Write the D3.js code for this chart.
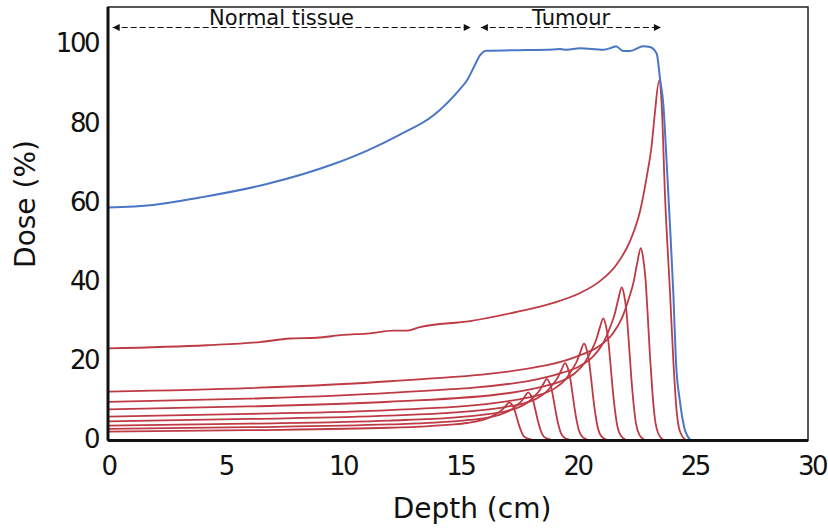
<!DOCTYPE html>
<html>
<head>
<meta charset="utf-8">
<script src="https://cdn.jsdelivr.net/npm/d3@7"></script>
<style>
  body { margin: 0; background: #fff; }
  text { font-family: "DejaVu Sans", Verdana, sans-serif; fill: #111; }
</style>
</head>
<body>
<script>
var width = 828, height = 531;

// axis ticks
var depthTicks = [0, 5, 10, 15, 20, 25, 30];
var doseTicks = [0, 20, 40, 60, 80, 100];

// spread-out peak (blue), [depth cm, dose %]
var sobp = [[0, 58.6], [1.92, 59.2], [3.92, 61.1], [6.77, 64.5], [9.59, 69.5], [11.03, 72.9],
  [12.45, 77.0], [13.87, 81.8], [15.01, 88.5], [15.30, 90.6], [15.6, 94.0], [15.86, 97.0],
  [16.15, 98.2], [17.5, 98.3], [19.0, 98.5], [19.28, 98.6], [19.56, 98.4], [20.13, 98.8],
  [21.12, 98.4], [21.55, 99.1], [21.66, 99.3], [21.97, 98.1], [22.26, 98.1], [22.83, 99.3],
  [23.11, 99.1], [23.40, 97.4], [23.54, 91.1], [23.68, 84.7], [23.82, 70.4], [23.97, 53.5],
  [24.11, 36.6], [24.22, 19.7], [24.39, 9.6], [24.58, 2.9], [24.82, 0]];

// pristine Bragg peaks (red), shallowest first
var bp1 = [[0, 2.0], [6, 2.35], [12, 2.97], [13.11, 3.21], [14.61, 3.76], [15.31, 4.17], [15.91, 4.83],
  [16.31, 5.65], [16.61, 6.68], [16.81, 7.54], [16.96, 8.50], [17.11, 9.4], [17.21, 8.93], [17.31, 7.90],
  [17.41, 6.02], [17.51, 3.95], [17.61, 2.26], [17.71, 1.03], [17.86, 0.28], [18.06, 0]];
var bp2 = [[0, 2.7], [6, 3.11], [12, 3.81], [13.92, 4.24], [15.42, 4.93], [16.12, 5.43], [16.72, 6.26],
  [17.12, 7.27], [17.42, 8.56], [17.62, 9.62], [17.77, 10.81], [17.92, 11.9], [18.02, 11.31], [18.12, 10.0],
  [18.22, 7.62], [18.32, 5.0], [18.42, 2.86], [18.52, 1.31], [18.67, 0.36], [18.87, 0]];
var bp3 = [[0, 3.5], [6, 4.01], [12, 4.79], [14.71, 5.52], [16.21, 6.40], [16.91, 7.05], [17.51, 8.11],
  [17.91, 9.41], [18.21, 11.06], [18.41, 12.42], [18.56, 13.95], [18.71, 15.3], [18.81, 14.54], [18.91, 12.85],
  [19.01, 9.79], [19.11, 6.43], [19.21, 3.67], [19.31, 1.68], [19.46, 0.46], [19.66, 0]];
var bp4 = [[0, 4.6], [6, 5.19], [12, 6.03], [15.49, 7.16], [16.99, 8.26], [17.69, 9.07], [18.29, 10.39],
  [18.69, 12.01], [18.99, 14.07], [19.19, 15.76], [19.34, 17.67], [19.49, 19.3], [19.59, 18.34], [19.69, 16.21],
  [19.79, 12.35], [19.89, 8.11], [19.99, 4.63], [20.09, 2.12], [20.24, 0.58], [20.44, 0]];
var bp5 = [[0, 5.8], [6, 6.46], [12, 7.44], [16.3, 9.06], [17.8, 10.44], [18.5, 11.45], [19.1, 13.10],
  [19.5, 15.13], [19.8, 17.70], [20.0, 19.82], [20.15, 22.21], [20.3, 24.2], [20.4, 22.99], [20.5, 20.33],
  [20.6, 15.49], [20.7, 10.16], [20.8, 5.81], [20.9, 2.66], [21.05, 0.73], [21.25, 0]];
var bp6 = [[0, 7.6], [6, 8.34], [12, 9.53], [17.12, 11.74], [18.62, 13.47], [19.32, 14.73], [19.92, 16.80],
  [20.32, 19.33], [20.62, 22.55], [20.82, 25.20], [20.97, 28.19], [21.12, 30.6], [21.22, 29.07], [21.32, 25.70],
  [21.42, 19.58], [21.52, 12.85], [21.62, 7.34], [21.72, 3.37], [21.87, 0.92], [22.07, 0]];
var bp7 = [[0, 9.5], [6, 10.31], [12, 11.78], [17.91, 14.76], [19.41, 16.93], [20.11, 18.52], [20.71, 21.12],
  [21.11, 24.30], [21.41, 28.34], [21.61, 31.67], [21.76, 35.42], [21.91, 38.4], [22.01, 36.48], [22.11, 32.26],
  [22.21, 24.58], [22.31, 16.13], [22.41, 9.22], [22.51, 4.22], [22.66, 1.15], [22.86, 0]];
var bp8 = [[0, 12.1], [6, 12.97], [12, 14.71], [18.72, 18.76], [20.22, 21.48], [20.92, 23.47], [21.52, 26.72],
  [21.92, 30.71], [22.22, 35.77], [22.42, 39.94], [22.57, 44.64], [22.72, 48.3], [22.82, 45.89], [22.92, 40.57],
  [23.02, 30.91], [23.12, 20.29], [23.22, 11.59], [23.32, 5.31], [23.47, 1.45], [23.67, 0]];
var bp9 = [[0, 23.0], [4.21, 23.8], [6.48, 24.6], [7.76, 25.5], [8.9, 25.7], [10.03, 26.4], [11.17, 26.8],
  [12.17, 27.5], [12.74, 27.5], [13.30, 28.4], [15.44, 29.9], [17.57, 32.4], [18.99, 34.5], [20.13, 37.0],
  [20.98, 40.0], [21.69, 44.2], [22.26, 50.1], [22.69, 57.7], [22.97, 66.2], [23.19, 74.6], [23.33, 83.0],
  [23.50, 90.6], [23.61, 84.7], [23.75, 62.0], [23.97, 36.7], [24.11, 19.7], [24.25, 7.1], [24.39, 2.0], [24.61, 0]];
var braggPeaks = [bp1, bp2, bp3, bp4, bp5, bp6, bp7, bp8, bp9];

// region annotations (depth cm)
var regionNames = ["Normal tissue", "Tumour"];
var regionFrom = [0.2, 15.9];
var regionTo = [15.47, 23.58];
var regionTextAt = [7.4, 19.75];

// plot box (px)
var plotL = 108, plotR = 808, plotT = 7, plotB = 440.5;

var x = d3.scaleLinear()
  .domain([0, (plotR - plotL) / 23.45])
  .range([plotL, plotR]);

var y = d3.scaleLinear()
  .domain([0, 100])
  .range([439.5, 43.5]);

var svg = d3.select("body").append("svg")
  .attr("width", width)
  .attr("height", height);

var defs = svg.append("defs");
defs.append("marker")
  .attr("id", "arrow")
  .attr("viewBox", "0 0 10 10")
  .attr("refX", 10).attr("refY", 5)
  .attr("markerWidth", 9).attr("markerHeight", 7)
  .attr("markerUnits", "userSpaceOnUse")
  .attr("orient", "auto-start-reverse")
  .append("path")
  .attr("d", "M0,0 L10,5 L0,10 z")
  .attr("fill", "#111");

// frame (thin top/right)
svg.append("rect")
  .attr("x", plotL).attr("y", plotT)
  .attr("width", plotR - plotL).attr("height", plotB - plotT)
  .attr("fill", "none")
  .attr("stroke", "#222")
  .attr("stroke-width", 1.5);

var line = d3.line()
  .x(d => x(d[0]))
  .y(d => y(d[1]))
  .curve(d3.curveMonotoneX);

svg.append("g")
  .selectAll("path")
  .data(braggPeaks)
  .join("path")
  .attr("d", line)
  .attr("fill", "none")
  .attr("stroke", "#be3a45")
  .attr("stroke-width", 1.8);

svg.append("path")
  .attr("d", line(sobp))
  .attr("fill", "none")
  .attr("stroke", "#4a76c6")
  .attr("stroke-width", 2);

// axes
var xAxis = svg.append("g")
  .attr("transform", "translate(0," + plotB + ")")
  .call(d3.axisBottom(x).tickValues(depthTicks).tickSize(0).tickPadding(16));
xAxis.select(".domain").attr("stroke", "#111").attr("stroke-width", 3)
  .attr("d", "M" + plotL + ",0H" + plotR);
xAxis.selectAll("text")
  .style("font-size", "26px")
  .style("letter-spacing", "-2.5px")
  .attr("font-family", null);

var yAxis = svg.append("g")
  .attr("transform", "translate(" + plotL + ",0)")
  .call(d3.axisLeft(y).tickValues(doseTicks).tickSize(0).tickPadding(10));
yAxis.select(".domain").attr("stroke", "#111").attr("stroke-width", 3)
  .attr("d", "M0," + plotT + "V" + plotB);
yAxis.selectAll("text")
  .style("font-size", "26px")
  .style("letter-spacing", "-2.5px")
  .attr("font-family", null);
svg.selectAll(".tick text").style("fill", "#111");

// axis titles
svg.append("text")
  .attr("x", 472).attr("y", 518)
  .attr("text-anchor", "middle")
  .style("font-size", "28px")
  .text("Depth (cm)");

svg.append("text")
  .attr("transform", "translate(35,204) rotate(-90)")
  .attr("text-anchor", "middle")
  .style("font-size", "28px")
  .text("Dose (%)");

// region arrows
var regions = svg.append("g");
regionNames.forEach(function (name, i) {
  regions.append("line")
    .attr("x1", x(regionFrom[i])).attr("x2", x(regionTo[i]))
    .attr("y1", 27.5).attr("y2", 27.5)
    .attr("stroke", "#111")
    .attr("stroke-width", 1.2)
    .attr("stroke-dasharray", "6,3")
    .attr("marker-start", "url(#arrow)")
    .attr("marker-end", "url(#arrow)");
  regions.append("text")
    .attr("x", x(regionTextAt[i])).attr("y", 25)
    .attr("text-anchor", "middle")
    .style("font-size", "21px")
    .text(name);
});
</script>
</body>
</html>
